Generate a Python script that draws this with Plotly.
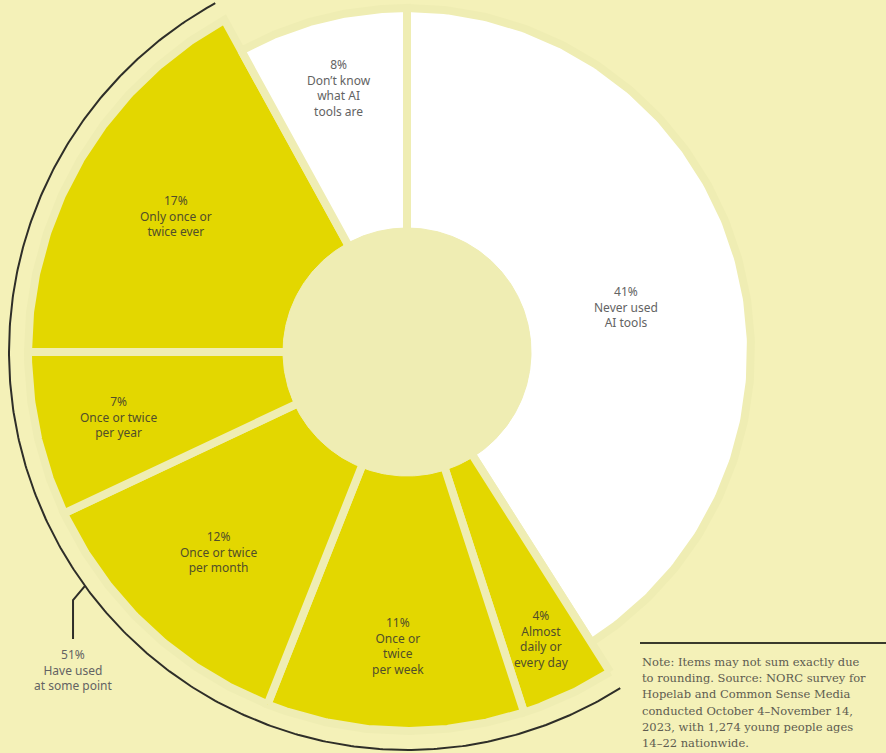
import numpy as np
import plotly.graph_objects as go

# Survey shares, listed clockwise from 12 o'clock
categories = [
    "Never used AI tools",
    "Almost daily or every day",
    "Once or twice per week",
    "Once or twice per month",
    "Once or twice per year",
    "Only once or twice ever",
    "Don’t know what AI tools are",
]
values = [41, 4, 11, 12, 7, 17, 8]
have_used = [False, True, True, True, True, True, False]
label_text = [
    "Never used<br>AI tools",
    "Almost<br>daily or<br>every day",
    "Once or<br>twice<br>per week",
    "Once or twice<br>per month",
    "Once or twice<br>per year",
    "Only once or<br>twice ever",
    "Don’t know<br>what AI<br>tools are",
]
used_total_label = "51%<br>Have used<br>at some point"
note_lines = [
    "Note: Items may not sum exactly due",
    "to rounding. Source: NORC survey for",
    "Hopelab and Common Sense Media",
    "conducted October 4–November 14,",
    "2023, with 1,274 young people ages",
    "14–22 nationwide.",
]

# Page and ring geometry (pixels)
W, H = 886, 753
CX, CY = 407, 352
R_HOLE, R_NEVER, R_USED, GAP = 124, 340, 375, 8
R_BRACE = 398
label_r = [224, 317, 294, 275, 296, 268, 273]
label_turn = [4.6, 0, 0, 0, 0, 0, 0]

BG = "#f4f1b8"
PLATE = "#efedb3"
YELLOW = "#e3d700"
WHITE = "#ffffff"
INK_USED = "#514e2a"
INK_NEVER = "#636363"
LINE = "#2e2e28"

fig = go.Figure()

total = float(sum(values))
cum = np.concatenate([[0], np.cumsum(values)]) / total * 360.0


def polar_xy(r, deg):
    t = np.radians(deg)
    return r * np.sin(t), r * np.cos(t)


annotations = []
for i, (cat, v, used) in enumerate(zip(categories, values, have_used)):
    a0, a1 = cum[i], cum[i + 1]
    ang = np.linspace(a0, a1, 240)
    r_out = (R_USED if used else R_NEVER) + GAP / 2
    r_in = R_HOLE - GAP / 2
    xo, yo = polar_xy(r_out, ang)
    xi, yi = polar_xy(r_in, ang[::-1])
    xs = np.concatenate([xo, xi, xo[:1]])
    ys = np.concatenate([yo, yi, yo[:1]])
    fig.add_trace(go.Scatter(
        x=xs, y=ys, mode="lines", fill="toself",
        fillcolor=YELLOW if used else WHITE,
        line=dict(color=PLATE, width=GAP),
        name=cat, hoverinfo="name", showlegend=False,
    ))
    lx, ly = polar_xy(label_r[i], (a0 + a1) / 2 + label_turn[i])
    annotations.append(dict(
        x=lx, y=ly, xref="x", yref="y", showarrow=False,
        text=f"{v}%<br>{label_text[i]}",
        font=dict(family="Noto Sans, sans-serif", size=12,
                  color=INK_USED if used else INK_NEVER),
        align="center",
    ))

# Centre hole
ang = np.linspace(0, 360, 361)
hx, hy = polar_xy(R_HOLE, ang)
fig.add_trace(go.Scatter(x=hx, y=hy, mode="lines", fill="toself",
                         fillcolor=PLATE, line=dict(color=PLATE, width=1),
                         hoverinfo="skip", showlegend=False))

# Brace arc spanning the "have used" slices
used_idx = [i for i, u in enumerate(have_used) if u]
b0, b1 = cum[used_idx[0]], cum[used_idx[-1] + 1]
ang = np.linspace(b0, b1, 400)
bx, by = polar_xy(R_BRACE, ang)
fig.add_trace(go.Scatter(x=bx, y=by, mode="lines",
                         line=dict(color=LINE, width=2),
                         hoverinfo="skip", showlegend=False))

# Leader from the brace down to the total label
tick_angle = 234
p0 = polar_xy(R_BRACE, tick_angle)
p1 = polar_xy(R_BRACE + 18, tick_angle - 0.6)
label_y = -318
fig.add_trace(go.Scatter(x=[p0[0], p1[0], p1[0]], y=[p0[1], p1[1], label_y + 31],
                         mode="lines", line=dict(color=LINE, width=2),
                         hoverinfo="skip", showlegend=False))
annotations.append(dict(
    x=p1[0], y=label_y, xref="x", yref="y", showarrow=False,
    text=used_total_label, align="center",
    font=dict(family="Noto Sans, sans-serif", size=12, color=INK_NEVER),
))

# Source note with rule above
note_x = 640 - CX
for k, line in enumerate(note_lines):
    annotations.append(dict(
        x=note_x, y=CY - (662 + 16.2 * k), xref="x", yref="y",
        xanchor="left", yanchor="middle", showarrow=False, text=line,
        font=dict(family="DejaVu Serif, serif", size=11.5, color="#5e5c50"),
    ))

shapes = [dict(type="line", xref="x", yref="y",
               x0=note_x, x1=W - CX, y0=CY - 643, y1=CY - 643,
               line=dict(color="#3a3a2c", width=2))]

fig.update_layout(
    width=W, height=H,
    margin=dict(l=0, r=0, t=0, b=0),
    paper_bgcolor=BG, plot_bgcolor=BG,
    xaxis=dict(range=[-CX, W - CX], visible=False, fixedrange=True),
    yaxis=dict(range=[CY - H, CY], visible=False, fixedrange=True),
    annotations=annotations, shapes=shapes,
    showlegend=False,
)

fig.write_html("out.html")
